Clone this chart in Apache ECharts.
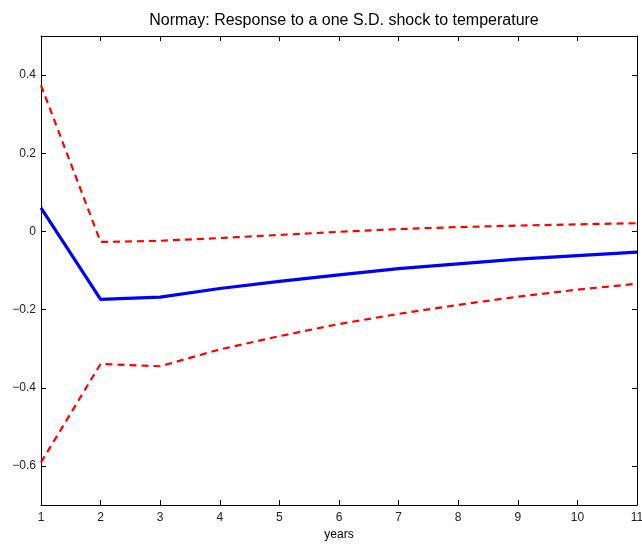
<!DOCTYPE html>
<html>
<head>
<meta charset="utf-8">
<script src="https://cdn.jsdelivr.net/npm/echarts@6/dist/echarts.min.js"></script>
<style>html,body{margin:0;padding:0;background:#fff;}#c{width:642px;height:544px;}</style>
</head>
<body>
<div id="c"></div>
<script>
const years = [1, 2, 3, 4, 5, 6, 7, 8, 9, 10, 11];
const response = [0.06, -0.174, -0.168, -0.146, -0.128, -0.111, -0.095, -0.083, -0.071, -0.062, -0.053];
const upperBand = [0.374, -0.027, -0.024, -0.017, -0.009, -0.001, 0.006, 0.011, 0.015, 0.018, 0.021];
const lowerBand = [-0.591, -0.339, -0.345, -0.302, -0.268, -0.237, -0.211, -0.188, -0.167, -0.149, -0.134];
const yTicks = [-0.6, -0.4, -0.2, 0, 0.2, 0.4];
const xTicks = [1, 2, 3, 4, 5, 6, 7, 8, 9, 10, 11];

const pair = (xs, ys) => xs.map((x, i) => [x, ys[i]]);
const fmtY = v => {
  const s = (Math.round(v * 10) / 10).toString();
  return s.replace('-', '\u2212');
};
const font = 'Liberation Sans, Arial, Helvetica, sans-serif';
const lineStyle = { color: '#000', width: 1 };

const chart = echarts.init(document.getElementById('c'));
chart.setOption({
  animation: false,
  backgroundColor: '#fff',
  title: {
    text: 'Normay: Response to a one S.D. shock to temperature',
    left: 339, top: 8, textAlign: 'center',
    textStyle: { fontFamily: font, fontSize: 16, fontWeight: 'normal', color: '#000' }
  },
  grid: { left: 41, right: 5, top: 36, bottom: 39, outerBoundsMode: 'none', containLabel: false },
  xAxis: [{
    type: 'value', min: 1, max: 11, interval: 1,
    name: 'years', nameLocation: 'middle', nameGap: 21,
    nameTextStyle: { fontFamily: font, fontSize: 12, color: '#000' },
    axisLine: { onZero: false, lineStyle },
    axisTick: { inside: true, length: 5, lineStyle, customValues: xTicks },
    axisLabel: { fontFamily: font, fontSize: 12, color: '#222', margin: 7, customValues: xTicks },
    splitLine: { show: false }
  }, {
    type: 'value', min: 1, max: 11, interval: 1, position: 'top',
    axisLine: { onZero: false, lineStyle },
    axisTick: { inside: true, length: 5, lineStyle },
    axisLabel: { show: false },
    splitLine: { show: false }
  }],
  yAxis: [{
    type: 'value', min: -0.7, max: 0.5,
    axisLine: { onZero: false, lineStyle },
    axisTick: { inside: true, length: 5, lineStyle, customValues: yTicks },
    axisLabel: { fontFamily: font, fontSize: 12, color: '#222', margin: 5, customValues: yTicks, formatter: fmtY },
    splitLine: { show: false }
  }, {
    type: 'value', min: -0.7, max: 0.5, position: 'right',
    axisLine: { onZero: false, lineStyle },
    axisTick: { inside: true, length: 5, lineStyle, customValues: yTicks },
    axisLabel: { show: false, customValues: yTicks },
    splitLine: { show: false }
  }],
  series: [{
    type: 'line', data: pair(years, upperBand), showSymbol: false, symbol: 'none',
    lineStyle: { color: '#ff0000', width: 2.2, type: [7, 5] }
  }, {
    type: 'line', data: pair(years, lowerBand), showSymbol: false, symbol: 'none',
    lineStyle: { color: '#ff0000', width: 2.2, type: [7, 5] }
  }, {
    type: 'line', data: pair(years, response), showSymbol: false, symbol: 'none',
    lineStyle: { color: '#0000ff', width: 3.2 }
  }]
});
</script>
</body>
</html>
